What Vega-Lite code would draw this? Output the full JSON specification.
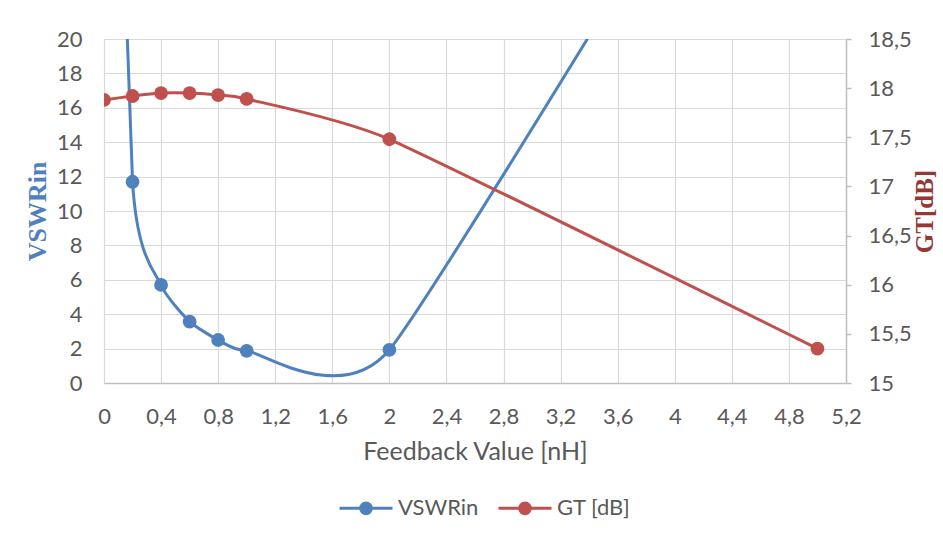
{
  "$schema": "https://vega.github.io/schema/vega-lite/v6.json",
  "width": 742,
  "height": 344,
  "autosize": {"type": "none"},
  "padding": {"left": 104, "top": 39, "right": 97, "bottom": 157},
  "background": "white",
  "config": {"view": {"stroke": null}, "font": "Lato"},
  "data": {
    "values": [
      {"x": 0, "vswr": 60, "gt": 17.88},
      {"x": 0.2, "vswr": 11.7, "gt": 17.92},
      {"x": 0.4, "vswr": 5.7, "gt": 17.95},
      {"x": 0.6, "vswr": 3.57, "gt": 17.95},
      {"x": 0.8, "vswr": 2.5, "gt": 17.93},
      {"x": 1.0, "vswr": 1.87, "gt": 17.89},
      {"x": 2.0, "vswr": 1.93, "gt": 17.48},
      {"x": 5.0, "vswr": 42, "gt": 15.35}
    ]
  },
  "encoding": {
    "x": {
      "field": "x",
      "type": "quantitative",
      "scale": {"domain": [0, 5.2], "nice": false, "zero": false},
      "axis": {
        "values": [0, 0.4, 0.8, 1.2, 1.6, 2, 2.4, 2.8, 3.2, 3.6, 4, 4.4, 4.8, 5.2],
        "labelExpr": "replace(format(datum.value, '~g'), '.', ',')",
        "labelFlush": false,
        "labelOverlap": false,
        "title": "Feedback Value [nH]",
        "titleFont": "Lato",
        "titleFontSize": 25,
        "titleFontWeight": "normal",
        "titleColor": "#595959",
        "titlePadding": 12,
        "labelFont": "Lato",
        "labelFontSize": 22,
        "labelColor": "#595959",
        "ticks": false,
        "tickSize": 0,
        "labelPadding": 23,
        "domainColor": "#bfbfbf",
        "domainWidth": 1.5,
        "grid": true,
        "gridColor": "#d9d9d9",
        "gridWidth": 1.2
      }
    }
  },
  "layer": [
    {
      "encoding": {
        "y": {
          "field": "vswr",
          "type": "quantitative",
          "scale": {"domain": [0, 20], "nice": false},
          "axis": {
            "orient": "left",
            "values": [0, 2, 4, 6, 8, 10, 12, 14, 16, 18, 20],
            "title": "VSWRin",
            "titleFont": "Liberation Serif",
            "titleFontWeight": "bold",
            "titleFontSize": 26,
            "titleColor": "#4F81BD",
            "titlePadding": 6,
            "labelFont": "Lato",
            "labelFontSize": 22,
            "labelColor": "#595959",
            "ticks": false,
            "tickSize": 0,
            "labelPadding": 22,
            "domain": false,
            "grid": true,
            "gridColor": "#d9d9d9",
            "gridWidth": 1.2
          }
        },
        "color": {
          "datum": "VSWRin",
          "type": "nominal",
          "scale": {"domain": ["VSWRin", "GT [dB]"], "range": ["#4F81BD", "#C0504D"]},
          "legend": {
            "orient": "none",
            "legendX": 234,
            "legendY": 441,
            "direction": "horizontal",
            "title": null,
            "symbolType": "M-1,0L1,0M0.2,0A0.2,0.2,0,1,1,-0.2,0A0.2,0.2,0,1,1,0.2,0Z",
            "symbolSize": 2809,
            "symbolStrokeWidth": 3,
            "symbolOpacity": 1,
            "labelFont": "Lato",
            "labelFontSize": 22,
            "labelColor": "#595959",
            "columnPadding": 13,
            "labelOffset": 4,
            "padding": 0,
            "encode": {
              "symbols": {
                "update": {
                  "fill": {"scale": "color", "field": "value"},
                  "stroke": {"scale": "color", "field": "value"},
                  "opacity": {"value": 1}
                }
              }
            }
          }
        }
      },
      "layer": [
        {"mark": {"type": "line", "interpolate": "cardinal", "tension": 0.5, "clip": true, "strokeWidth": 3}},
        {"mark": {"type": "point", "filled": true, "size": 190, "opacity": 1, "clip": true}}
      ]
    },
    {
      "encoding": {
        "y": {
          "field": "gt",
          "type": "quantitative",
          "scale": {"domain": [15, 18.5], "nice": false, "zero": false},
          "axis": {
            "orient": "right",
            "values": [15, 15.5, 16, 16.5, 17, 17.5, 18, 18.5],
            "labelExpr": "replace(format(datum.value, '~g'), '.', ',')",
            "title": "GT[dB]",
            "titleFont": "Liberation Serif",
            "titleFontWeight": "bold",
            "titleFontSize": 25,
            "titleColor": "#953735",
            "titleAngle": -90,
            "titleBaseline": "top",
            "titlePadding": 1,
            "labelFont": "Lato",
            "labelFontSize": 22,
            "labelColor": "#595959",
            "ticks": true,
            "tickSize": 5,
            "tickColor": "#bfbfbf",
            "tickWidth": 1.5,
            "labelPadding": 17,
            "domain": true,
            "domainColor": "#bfbfbf",
            "domainWidth": 1.5,
            "grid": false
          }
        },
        "color": {
          "datum": "GT [dB]",
          "type": "nominal"
        }
      },
      "layer": [
        {"mark": {"type": "line", "interpolate": "cardinal", "tension": 0.5, "clip": true, "strokeWidth": 3}},
        {"mark": {"type": "point", "filled": true, "size": 190, "opacity": 1, "clip": true}}
      ]
    }
  ],
  "resolve": {"scale": {"y": "independent"}}
}
